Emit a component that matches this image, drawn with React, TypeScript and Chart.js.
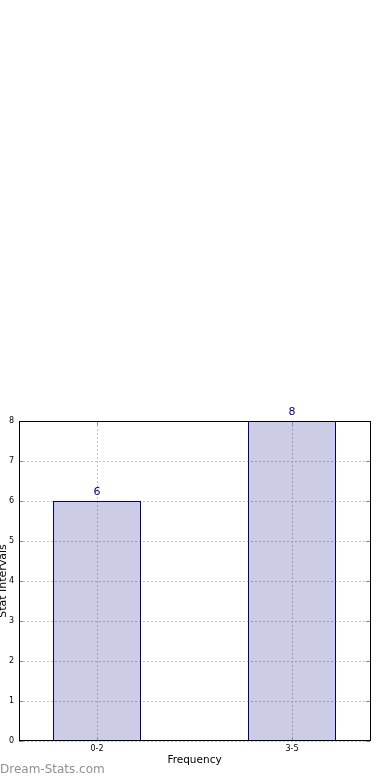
import React, { useEffect, useRef } from "react";
import { Chart, registerables } from "chart.js";

Chart.register(...registerables);

const categories: string[] = ["0-2", "3-5"];
const frequencies: number[] = [6, 8];
const yTicks: number[] = [0, 1, 2, 3, 4, 5, 6, 7, 8];
const xTitle = "Frequency";
const yTitle = "Stat Intervals";
const watermark = "Dream-Stats.com";

const FONT = "'DejaVu Sans', sans-serif";
const NAVY = "#000080";

const decorPlugin = {
  id: "decor",
  afterDraw(chart: any) {
    const { ctx, chartArea } = chart;
    const { left, top, right, bottom } = chartArea;
    const xs = chart.scales.x;
    const ys = chart.scales.y;
    ctx.save();
    // inward tick marks
    ctx.strokeStyle = "#8a8a8a";
    ctx.lineWidth = 1;
    ctx.setLineDash([]);
    ctx.beginPath();
    categories.forEach((_, i) => {
      const px = Math.round(xs.getPixelForValue(i)) + 0.5;
      ctx.moveTo(px, bottom);
      ctx.lineTo(px, bottom - 4);
      ctx.moveTo(px, top);
      ctx.lineTo(px, top + 4);
    });
    yTicks.forEach((v) => {
      const py = Math.round(ys.getPixelForValue(v)) + 0.5;
      ctx.moveTo(left, py);
      ctx.lineTo(left + 4, py);
      ctx.moveTo(right, py);
      ctx.lineTo(right - 4, py);
    });
    ctx.stroke();
    // frame
    ctx.strokeStyle = "#000000";
    ctx.lineWidth = 1;
    ctx.strokeRect(left + 0.5, top + 0.5, right - left, bottom - top - 1);
    // value labels
    const meta = chart.getDatasetMeta(0);
    ctx.fillStyle = NAVY;
    ctx.font = `11px ${FONT}`;
    ctx.textAlign = "center";
    ctx.textBaseline = "bottom";
    meta.data.forEach((bar: any, i: number) => {
      ctx.fillText(String(frequencies[i]), bar.x, bar.y - 3);
    });
    // watermark
    ctx.fillStyle = "#909090";
    ctx.font = `12px ${FONT}`;
    ctx.textAlign = "left";
    ctx.textBaseline = "middle";
    ctx.fillText(watermark, 0, 770);
    ctx.restore();
  },
};

export default function App() {
  const canvasRef = useRef<HTMLCanvasElement | null>(null);

  useEffect(() => {
    if (!canvasRef.current) return;
    const chart = new Chart(canvasRef.current, {
      type: "bar",
      data: {
        datasets: [
          {
            data: frequencies.map((f, i) => ({ x: i, y: f })),
            backgroundColor: "rgba(0,0,128,0.2)",
            borderColor: NAVY,
            borderWidth: 1,
            categoryPercentage: 1,
            barPercentage: 0.4513,
          },
        ],
      },
      options: {
        responsive: false,
        animation: false,
        devicePixelRatio: 1,
        layout: { padding: { top: 421, right: 20, bottom: 0, left: 0 } },
        plugins: {
          legend: { display: false },
          tooltip: { enabled: false },
        },
        scales: {
          x: {
            type: "linear",
            min: -0.4,
            max: 1.4,
            offset: false,
            afterBuildTicks: (scale: any) => {
              scale.ticks = categories.map((_, i) => ({ value: i }));
            },
            afterFit: (scale: any) => {
              scale.height = 39;
            },
            grid: {
              offset: false,
              color: "#c2c2c2",
              lineWidth: 1,
              drawTicks: false,
            },
            border: { display: false, dash: [2, 2] },
            ticks: {
              autoSkip: false,
              maxRotation: 0,
              padding: 3,
              color: "#000000",
              font: { family: FONT, size: 8 },
              callback: (v: any) => categories[Number(v)] ?? "",
            },
            title: {
              display: true,
              text: xTitle,
              color: "#000000",
              font: { family: FONT, size: 10.5 },
              padding: { top: 0, bottom: 13.7 },
            },
          },
          y: {
            type: "linear",
            min: 0,
            max: 8,
            afterFit: (scale: any) => {
              scale.width = 19;
            },
            grid: {
              color: "#c2c2c2",
              lineWidth: 1,
              drawTicks: false,
            },
            border: { display: false, dash: [2, 2] },
            ticks: {
              stepSize: 1,
              padding: 5,
              color: "#000000",
              font: { family: FONT, size: 8 },
            },
            title: {
              display: true,
              text: yTitle,
              color: "#000000",
              font: { family: FONT, size: 11 },
              padding: { top: -3.6, bottom: 0 },
            },
          },
        },
      } as any,
      plugins: [decorPlugin],
    });
    return () => chart.destroy();
  }, []);

  return (
    <div style={{ position: "absolute", left: 0, top: 0, width: 390, height: 780 }}>
      <canvas ref={canvasRef} width={390} height={780} style={{ display: "block" }} />
    </div>
  );
}
